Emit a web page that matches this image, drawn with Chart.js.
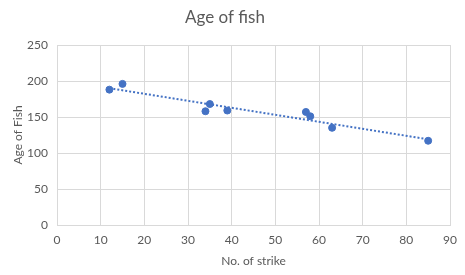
<!DOCTYPE html>
<html><head><meta charset="utf-8">
<script src="https://cdn.jsdelivr.net/npm/chart.js@4"></script>
<style>html,body{margin:0;padding:0;background:#fff}#c{display:block}</style>
</head><body>
<canvas id="c" width="465" height="275"></canvas>
<script>
const strikes = [12, 15, 34, 35, 39, 57, 58, 63, 85];
const ages = [188, 196, 158, 168, 159, 157, 151, 135, 117];
const trendX = [12, 85];
const trendY = [190, 119];
const xTicks = [0, 10, 20, 30, 40, 50, 60, 70, 80, 90];
const yTicks = [0, 50, 100, 150, 200, 250];

const font = "Lato, 'Open Sans', sans-serif";
new Chart(document.getElementById('c'), {
  type: 'scatter',
  data: {
    datasets: [
      {
        data: strikes.map((x, i) => ({x, y: ages[i]})),
        backgroundColor: '#4472C4', borderColor: '#4472C4',
        pointRadius: 3.5, pointHoverRadius: 3.5, order: 1
      },
      {
        type: 'line',
        data: trendX.map((x, i) => ({x, y: trendY[i]})),
        borderColor: '#4472C4', borderWidth: 2, borderDash: [2, 2],
        pointRadius: 0, fill: false, order: 2
      }
    ]
  },
  options: {
    responsive: false, animation: false, devicePixelRatio: 1,
    layout: {padding: {left: 0, right: 15, top: 0, bottom: 0}},
    plugins: {
      legend: {display: false}, tooltip: {enabled: false},
      title: {display: true, text: 'Age of fish', color: '#595959',
        font: {family: font, size: 17, weight: 'normal', lineHeight: 1.2},
        padding: {top: 7.5, bottom: 17.1}}
    },
    scales: {
      x: {
        type: 'linear', min: 0, max: 90,
        afterBuildTicks: s => { s.ticks = xTicks.map(v => ({value: v})); },
        afterFit: s => { s.height = 50; },
        grid: {color: '#d9d9d9', drawTicks: false},
        border: {color: '#d9d9d9'},
        ticks: {color: '#595959', font: {family: font, size: 12}, padding: 8, maxRotation: 0},
        title: {display: true, text: 'No. of strike', color: '#595959',
          font: {family: font, size: 12}, padding: {top: 4, bottom: 7}}
      },
      y: {
        min: 0, max: 250,
        afterBuildTicks: s => { s.ticks = yTicks.map(v => ({value: v})); },
        afterFit: s => { s.width = 57; },
        grid: {color: '#d9d9d9', drawTicks: false},
        border: {display: false},
        ticks: {color: '#595959', font: {family: font, size: 12}, padding: 9},
        title: {display: true, text: 'Age of Fish', color: '#595959',
          font: {family: font, size: 12}, padding: {top: 11, bottom: 4}}
      }
    }
  }
});
</script>
</body></html>
